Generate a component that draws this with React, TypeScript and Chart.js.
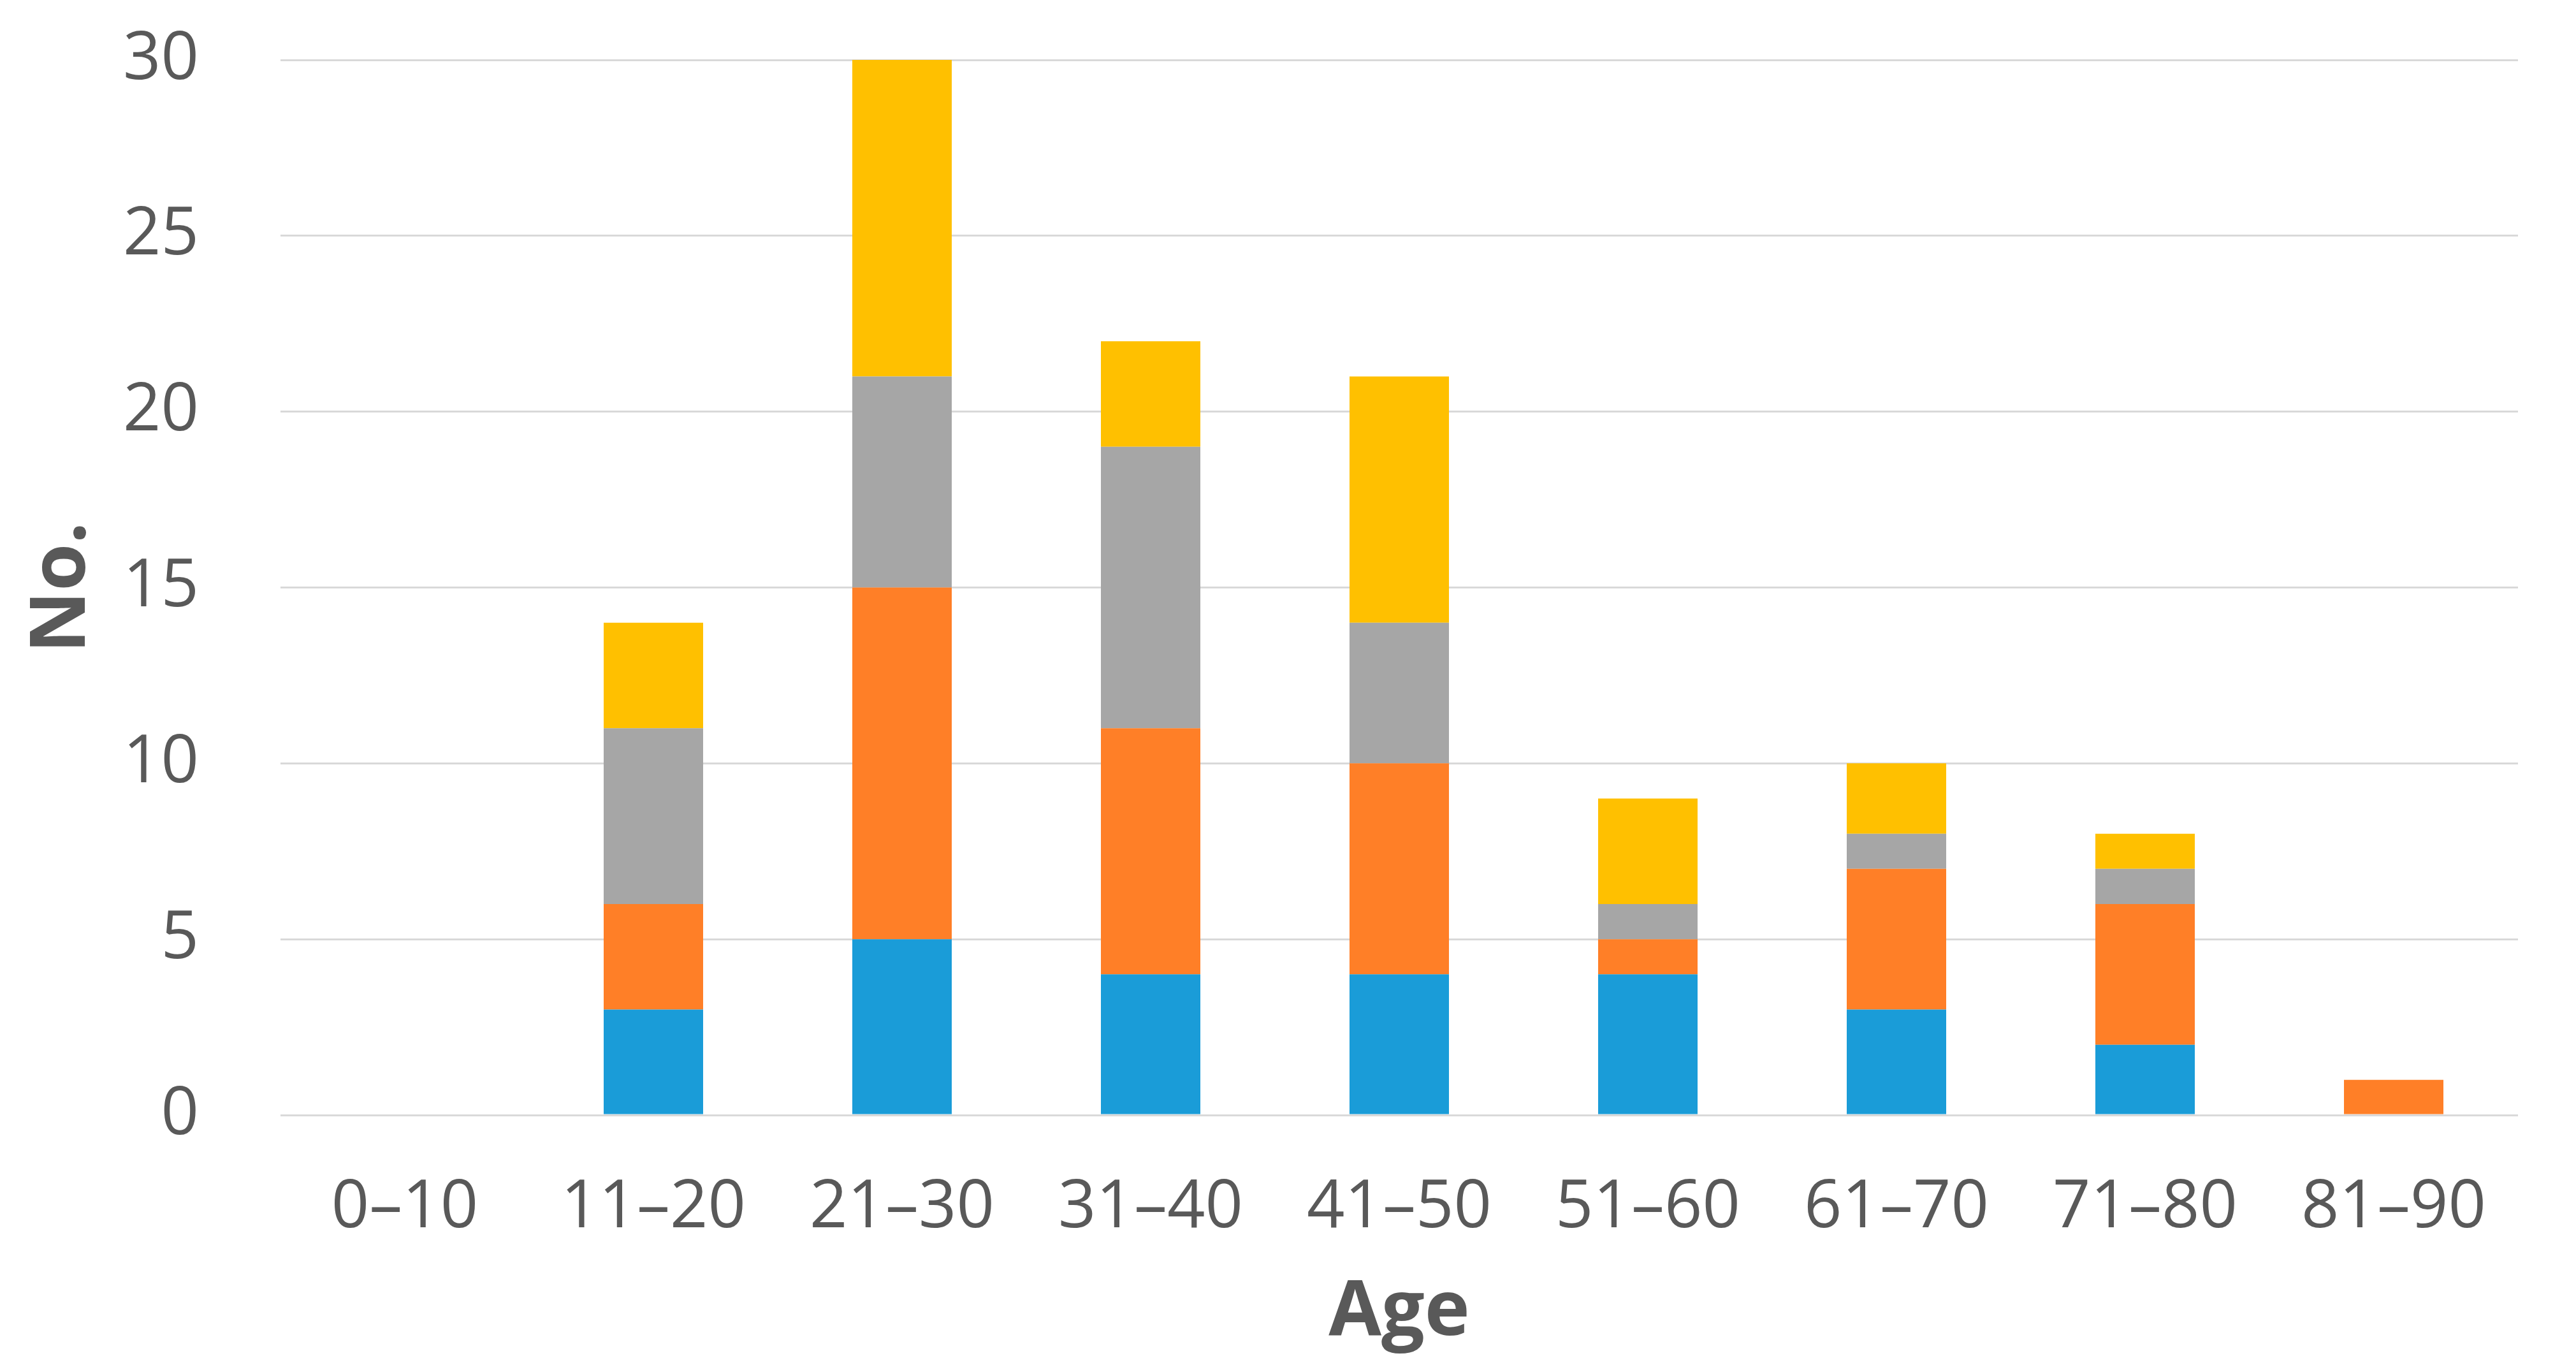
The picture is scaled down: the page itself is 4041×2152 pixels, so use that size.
import React, { useEffect, useRef } from "react";
import { Chart, registerables } from "chart.js";

Chart.register(...registerables);

const categories = ["0–10", "11–20", "21–30", "31–40", "41–50", "51–60", "61–70", "71–80", "81–90"];
const blueValues = [0, 3, 5, 4, 4, 4, 3, 2, 0];
const orangeValues = [0, 3, 10, 7, 6, 1, 4, 4, 1];
const grayValues = [0, 5, 6, 8, 4, 1, 1, 1, 0];
const yellowValues = [0, 3, 9, 3, 7, 3, 2, 1, 0];
const yTicks = [0, 5, 10, 15, 20, 25, 30];

const TEXT = "#595959";
const FONT = "'Open Sans', 'Noto Sans', sans-serif";

export default function App() {
  const ref = useRef<HTMLCanvasElement | null>(null);

  useEffect(() => {
    if (!ref.current) return;
    const mk = (label: string, data: number[], color: string) => ({
      label,
      data,
      backgroundColor: color,
      borderWidth: 0,
      barPercentage: 0.5,
      categoryPercentage: 0.8,
    });
    const chart = new Chart(ref.current, {
      type: "bar",
      data: {
        labels: categories,
        datasets: [
          mk("A", blueValues, "#1A9CD8"),
          mk("B", orangeValues, "#FF7F27"),
          mk("C", grayValues, "#A6A6A6"),
          mk("D", yellowValues, "#FFC000"),
        ],
      },
      options: {
        animation: false,
        responsive: true,
        maintainAspectRatio: false,
        devicePixelRatio: 1,
        layout: { padding: { left: 0, right: 91, top: 94, bottom: 0 } },
        plugins: {
          legend: { display: false },
          tooltip: { enabled: false },
        },
        scales: {
          x: {
            stacked: true,
            grid: { display: false },
            border: { display: false },
            ticks: {
              color: TEXT,
              font: { family: FONT, size: 104 },
              padding: 76,
              maxRotation: 0,
            },
            title: {
              display: true,
              text: "Age",
              color: TEXT,
              font: { family: FONT, size: 120, weight: "bold" },
              padding: { top: 0, bottom: 20 },
            },
            afterFit: (scale: any) => {
              scale.height = 403;
            },
          },
          y: {
            stacked: true,
            min: 0,
            max: 30,
            afterBuildTicks: (scale: any) => {
              scale.ticks = yTicks.map((v) => ({ value: v }));
            },
            grid: { color: "#D9D9D9", lineWidth: 3, drawTicks: false },
            border: { display: false },
            ticks: {
              color: TEXT,
              font: { family: FONT, size: 104 },
              padding: 128,
            },
            title: {
              display: true,
              text: "No.",
              color: TEXT,
              font: { family: FONT, size: 120, weight: "bold" },
              padding: { top: 27, bottom: 0 },
            },
            afterFit: (scale: any) => {
              scale.width = 440;
              scale.paddingTop = 0;
              scale.paddingBottom = 0;
            },
          },
        },
      },
    } as any);
    return () => chart.destroy();
  }, []);

  return (
    <div style={{ position: "absolute", left: 0, top: 0, width: 4041, height: 2152, background: "#fff" }}>
      <canvas ref={ref} />
    </div>
  );
}
